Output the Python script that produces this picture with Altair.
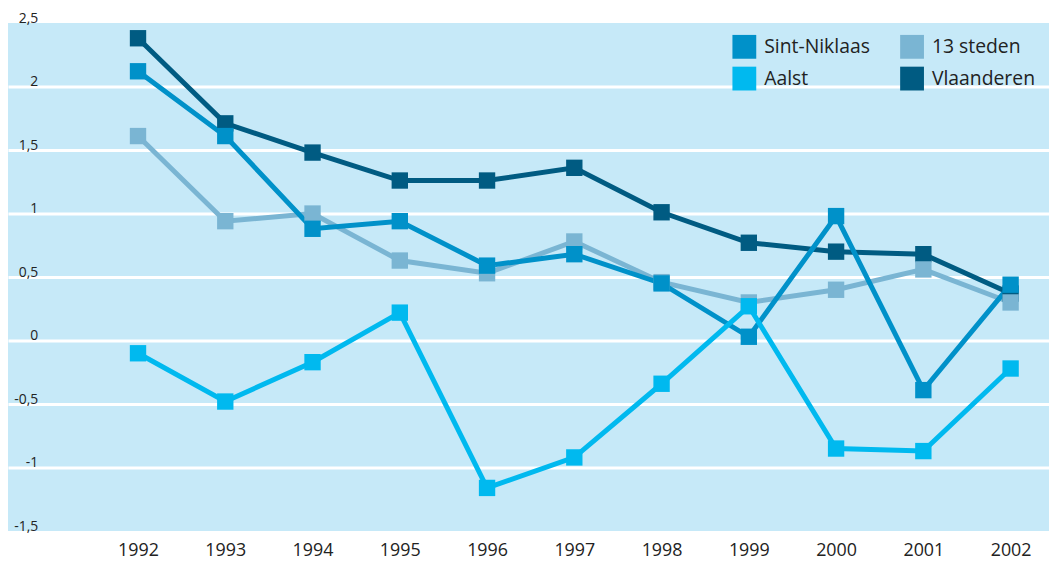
import altair as alt
import pandas as pd

years = list(range(1992, 2003))
series_names = ["Sint-Niklaas", "Aalst", "13 steden", "Vlaanderen"]
sint_niklaas = [2.12, 1.61, 0.88, 0.94, 0.59, 0.68, 0.45, 0.03, 0.98, -0.39, 0.44]
dertien_steden = [1.61, 0.94, 1.00, 0.63, 0.53, 0.78, 0.46, 0.30, 0.40, 0.56, 0.30]
aalst = [-0.10, -0.48, -0.17, 0.22, -1.16, -0.92, -0.34, 0.27, -0.85, -0.87, -0.22]
vlaanderen = [2.38, 1.71, 1.48, 1.26, 1.26, 1.36, 1.01, 0.77, 0.70, 0.68, 0.37]
colors = ["#0091c9", "#00b9ef", "#7ab5d3", "#005b82"]
y_ticks = [-1.5, -1, -0.5, 0, 0.5, 1, 1.5, 2, 2.5]

rows = []
draw_order = [("Vlaanderen", vlaanderen), ("13 steden", dertien_steden),
              ("Sint-Niklaas", sint_niklaas), ("Aalst", aalst)]
for order, (name, vals) in enumerate(draw_order):
    for yr, v in zip(years, vals):
        rows.append({"jaar": yr, "waarde": v, "reeks": name, "o": order})
df = pd.DataFrame(rows)

FONT = "Open Sans"

x = alt.X("jaar:Q",
          scale=alt.Scale(domain=[1990.51, 2002.44], nice=False, zero=False),
          axis=alt.Axis(values=years, format="d", title=None, grid=False,
                        domain=False, ticks=False, labelFontSize=18,
                        labelColor="#222222", labelPadding=25,
                        labelBaseline="alphabetic", labelFont=FONT, labelFlush=False))
y = alt.Y("waarde:Q",
          scale=alt.Scale(domain=[-1.5, 2.5], nice=False, zero=False),
          axis=alt.Axis(values=y_ticks, title=None, domain=False, ticks=False,
                        tickSize=0, grid=True,
                        gridColor={"condition": {"test": "datum.value >= 2.5 || datum.value <= -1.5",
                                                 "value": "transparent"},
                                   "value": "white"},
                        gridWidth=3, gridOpacity=1,
                        labelExpr="replace(toString(datum.value), '.', ',')",
                        labelAlign="right", labelBaseline="alphabetic",
                        labelPadding=-30, labelOffset=-1, labelFontSize=14,
                        labelColor="#222222", labelFont=FONT, labelFlush=False))
scale = alt.Scale(domain=series_names, range=colors)

lines = alt.Chart(df).mark_line(strokeWidth=5).encode(
    x=x, y=y,
    color=alt.Color("reeks:N", scale=scale),
    order="jaar:Q",
)
points = alt.Chart(df).mark_point(shape="square", filled=True, size=272, opacity=1).encode(
    x=x, y=y,
    color=alt.Color("reeks:N", scale=scale,
                    legend=alt.Legend(title=None, orient="none", legendX=730,
                                      legendY=12, columns=2, symbolType="square",
                                      symbolSize=576, symbolStrokeWidth=0,
                                      symbolOpacity=1, labelFontSize=19.5,
                                      labelFont=FONT, labelColor="#222222",
                                      labelOffset=8, rowPadding=8,
                                      columnPadding=30, padding=0)),
    order="o:Q",
)

chart = (lines + points).properties(
    width=1049, height=512,
    autosize=alt.AutoSizeParams(type="none"),
    padding={"left": 0, "top": 13, "right": 0, "bottom": 28},
    background="white",
).configure_view(stroke=None, fill="#c6e9f8")

chart.save("out.html", embed_options={"renderer": "svg", "actions": False})
